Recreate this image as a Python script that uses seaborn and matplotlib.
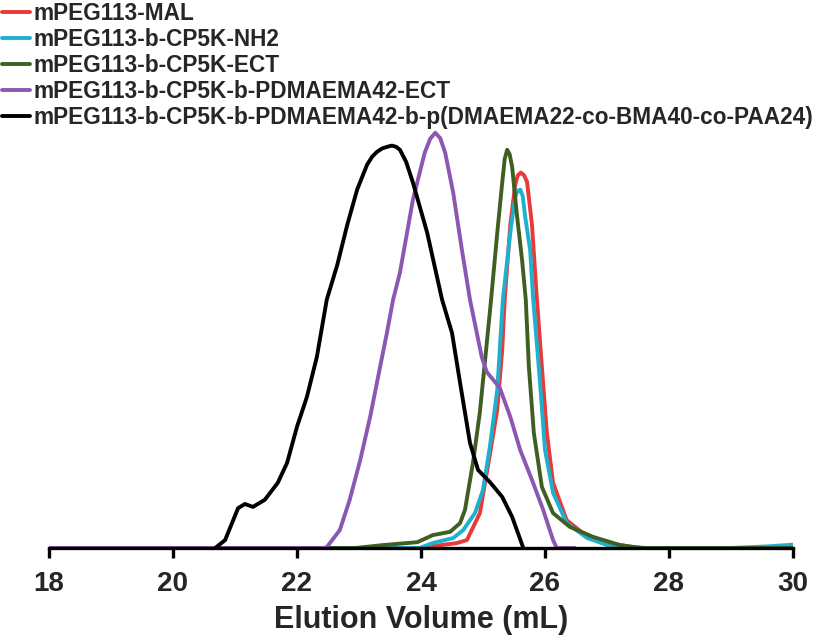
import pandas as pd
import seaborn as sns
import matplotlib.pyplot as plt

# SEC traces: elution volume (mL) and normalised RI signal
labels = ['mPEG113-MAL',
          'mPEG113-b-CP5K-NH2',
          'mPEG113-b-CP5K-ECT',
          'mPEG113-b-CP5K-b-PDMAEMA42-ECT',
          'mPEG113-b-CP5K-b-PDMAEMA42-b-p(DMAEMA22-co-BMA40-co-PAA24)']
colors = ['#e83a36', '#1fb0cf', '#3f5f22', '#8b57b3', '#000000']

mal_x = [18.0, 23.98, 24.58, 24.74, 24.95, 25.11, 25.23, 25.31, 25.35, 25.44, 25.52,
         25.56, 25.61, 25.66, 25.71, 25.79, 25.87, 25.95, 26.03, 26.13, 26.35, 26.61,
         26.94, 27.42, 27.65, 30.0]
mal_y = [0.0, 0.0, 0.012, 0.019, 0.084, 0.224, 0.333, 0.477, 0.598, 0.778, 0.875,
         0.897, 0.904, 0.898, 0.882, 0.778, 0.598, 0.436, 0.277, 0.157, 0.067, 0.036,
         0.014, 0.002, 0.0, 0.0]

nh2_x = [18.0, 23.98, 24.19, 24.52, 24.68, 24.87, 25.00, 25.11, 25.23, 25.32, 25.44,
         25.52, 25.56, 25.60, 25.64, 25.68, 25.76, 25.81, 25.92, 26.00, 26.13, 26.35,
         26.68, 27.10, 27.48, 29.0, 29.6, 30.0]
nh2_y = [0.0, 0.0, 0.012, 0.024, 0.043, 0.084, 0.140, 0.243, 0.381, 0.598, 0.759,
         0.846, 0.860, 0.863, 0.848, 0.798, 0.718, 0.598, 0.398, 0.236, 0.133, 0.060,
         0.024, 0.002, 0.0, 0.0, 0.004, 0.008]

ect_x = [18.0, 22.94, 23.39, 23.94, 24.19, 24.47, 24.63, 24.71, 24.84, 24.95, 25.05,
         25.13, 25.23, 25.31, 25.35, 25.39, 25.43, 25.47, 25.55, 25.63, 25.69, 25.74,
         25.82, 25.95, 26.13, 26.40, 26.77, 27.21, 27.56, 30.0]
ect_y = [0.0, 0.0, 0.007, 0.014, 0.031, 0.039, 0.060, 0.092, 0.207, 0.328, 0.477,
         0.598, 0.759, 0.880, 0.937, 0.959, 0.948, 0.918, 0.798, 0.694, 0.598, 0.436,
         0.277, 0.147, 0.084, 0.051, 0.027, 0.007, 0.0, 0.0]

pdm_x = [18.0, 22.42, 22.48, 22.69, 22.85, 23.02, 23.18, 23.34, 23.45, 23.55, 23.66,
         23.87, 24.06, 24.15, 24.23, 24.31, 24.39, 24.52, 24.66, 24.79, 24.98, 25.06,
         25.27, 25.44, 25.60, 25.79, 25.97, 26.13, 26.19, 26.48]
pdm_y = [0.0, 0.0, 0.002, 0.043, 0.116, 0.212, 0.316, 0.436, 0.518, 0.598, 0.663,
         0.839, 0.952, 0.986, 1.0, 0.987, 0.952, 0.855, 0.718, 0.598, 0.460, 0.424,
         0.386, 0.316, 0.236, 0.164, 0.092, 0.019, 0.0, 0.0]

ter_x = [20.68, 20.84, 21.05, 21.16, 21.29, 21.48, 21.69, 21.84, 22.00, 22.16, 22.32,
         22.48, 22.65, 22.81, 22.97, 23.13, 23.21, 23.29, 23.37, 23.45, 23.53, 23.60,
         23.66, 23.76, 23.87, 24.10, 24.34, 24.50, 24.63, 24.79, 24.92, 25.11, 25.31,
         25.47, 25.65]
ter_y = [0.0, 0.019, 0.096, 0.106, 0.099, 0.116, 0.157, 0.205, 0.292, 0.364, 0.460,
         0.598, 0.682, 0.778, 0.863, 0.923, 0.942, 0.954, 0.962, 0.966, 0.969, 0.966,
         0.959, 0.930, 0.880, 0.759, 0.598, 0.518, 0.398, 0.253, 0.188, 0.159, 0.123,
         0.075, 0.0]

traces = [(mal_x, mal_y), (nh2_x, nh2_y), (ect_x, ect_y), (pdm_x, pdm_y), (ter_x, ter_y)]
xticks = [18, 20, 22, 24, 26, 28, 30]

sns.set_style('white')
plt.rcParams['font.family'] = ['Liberation Sans', 'DejaVu Sans']
plt.rcParams['font.weight'] = 'bold'

fig = plt.figure(figsize=(8.25, 6.43), dpi=100)
ax = fig.add_axes([49 / 825, 1 - 548 / 643, 744 / 825, 436 / 643])

for (xs, ys), lab, col in zip(traces, labels, colors):
    df = pd.DataFrame({'volume': xs, 'signal': ys})
    sns.lineplot(data=df, x='volume', y='signal', color=col, lw=2.8,
                 sort=False, label=lab, ax=ax, solid_joinstyle='round')

ax.set_xlim(18, 30)
ax.set_ylim(0, 1.05)
ax.set_xticks(xticks)
ax.set_yticks([])
ax.set_ylabel('')
ax.set_xlabel('Elution Volume (mL)', fontsize=22, fontweight='bold', labelpad=6)
for s in ['top', 'right', 'left']:
    ax.spines[s].set_visible(False)
ax.spines['bottom'].set_linewidth(2.4)
ax.spines['bottom'].set_color('black')
ax.tick_params(axis='x', direction='out', length=7.5, width=2.4, color='black',
               labelsize=20, pad=9, bottom=True)
for t in ax.get_xticklabels():
    t.set_fontweight('bold')

handles, labs = ax.get_legend_handles_labels()
ax.legend_.remove()
fig.legend(handles, labs, loc='upper left', bbox_to_anchor=(2 / 825, 1 - 2 / 643),
           frameon=False, fontsize=16.3, handlelength=1.25, handletextpad=0.12,
           labelspacing=0.13, borderpad=0, borderaxespad=0)

fig.savefig('out.png', dpi=100)
